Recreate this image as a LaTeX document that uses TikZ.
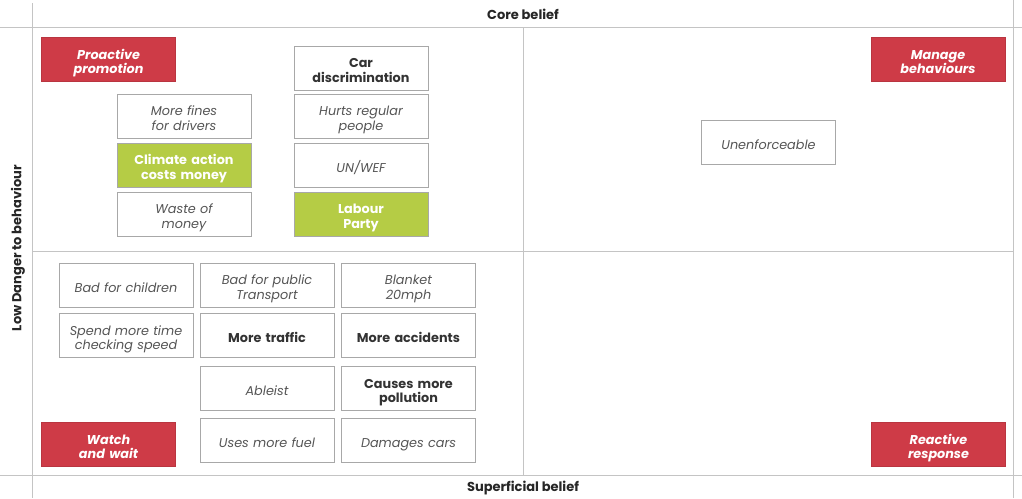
\documentclass[tikz,border=0pt]{standalone}
\usepackage{fontspec}
\setmainfont{Poppins}
\usetikzlibrary{positioning}
\definecolor{alarm}{HTML}{CE3B47}
\definecolor{lime}{HTML}{B5CC45}
\definecolor{gridgray}{HTML}{C4C4C4}
\definecolor{boxgray}{HTML}{A8A8A8}
\definecolor{txtgray}{HTML}{555555}
\tikzset{
  boxtext/.style={minimum width=134pt,minimum height=44pt,text width=130pt,align=center,
    inner xsep=2pt,inner ysep=1pt,
    execute at begin node={\rule{0pt}{18pt}},execute at end node={\rule[-4pt]{0pt}{4pt}}},
  card/.style={boxtext,draw=boxgray,line width=0.7pt,fill=white,
    font=\fontsize{12.8}{14.5}\selectfont\itshape,text=txtgray},
  keycard/.style={card,font=\fontsize{12.8}{14.5}\selectfont\bfseries,text=black!80},
  greencard/.style={card,fill=lime,font=\fontsize{12.8}{14.5}\selectfont\bfseries,text=white},
  redcard/.style={boxtext,fill=alarm,draw=alarm!90!black,
    font=\fontsize{12.8}{14.5}\selectfont\bfseries\itshape,text=white},
  axis/.style={font=\fontsize{13}{15}\selectfont\bfseries,text=black!85}
}
\begin{document}
\begin{tikzpicture}[x=1pt,y=-1pt]
  \useasboundingbox (0,0) rectangle (1022,498);
  \fill[white] (0,0) rectangle (1022,498);
  % grid
  \coordinate (tl) at (0,27);   \coordinate (tr) at (1022,27);
  \coordinate (bl) at (0,475);  \coordinate (br) at (1022,475);
  \coordinate (lt) at (32,3);   \coordinate (lb) at (32,498);
  \coordinate (rt) at (1013,0); \coordinate (rb) at (1013,498);
  \coordinate (ml) at (32,251); \coordinate (mr) at (1013,251);
  \coordinate (mt) at (523,27); \coordinate (mb) at (523,475);
  \draw[gridgray,line width=0.8pt] (tl) -- (tr) (bl) -- (br) (lt) -- (lb)
    (rt) -- (rb) (ml) -- (mr) (mt) -- (mb);
  \node[axis] (core) at (523,14) {Core belief};
  \node[axis] (superf) at (523,488) {Superficial belief};
  \node[axis,rotate=90] (danger) at (18,248) {Low Danger to behaviour};
  % quadrant labels
  \node[redcard] (pro) at (108.5,59.5) {Proactive\\promotion};
  \node[redcard] (manage) at (938,59.5) {Manage\\behaviours};
  \node[redcard] (watch) at (108.5,444.5) {Watch\\and wait};
  \node[redcard] (react) at (938.5,444.5) {Reactive\\response};
  % upper left
  \node[keycard] (cardisc) at (361,68) {Car\\discrimination};
  \node[card] (fines) at (184,116) {More fines\\for drivers};
  \node[greencard] (climate) at (184,165) {Climate action\\costs money};
  \node[card] (waste) at (184,214) {Waste of\\money};
  \node[card] (hurts) at (361,116) {Hurts regular\\people};
  \node[card] (unwef) at (361,165) {UN/WEF};
  \node[greencard] (labour) at (361,214) {Labour\\Party};
  % upper right
  \node[card] (unenf) at (768.5,142.5) {Unenforceable};
  % lower left
  \node[card] (children) at (126,285) {Bad for children};
  \node[card] (public) at (267,285) {Bad for public\\Transport};
  \node[card] (blanket) at (408.5,285) {Blanket\\20mph};
  \node[card] (spend) at (126,335.5) {Spend more time\\checking speed};
  \node[keycard] (traffic) at (267,335.5) {More traffic};
  \node[keycard] (accid) at (408.5,335.5) {More accidents};
  \node[card] (ableist) at (267,388.5) {Ableist};
  \node[keycard] (pollut) at (408.5,388.5) {Causes more\\pollution};
  \node[card] (fuel) at (267,440.5) {Uses more fuel};
  \node[card] (damage) at (408.5,440.5) {Damages cars};
\end{tikzpicture}
\end{document}
